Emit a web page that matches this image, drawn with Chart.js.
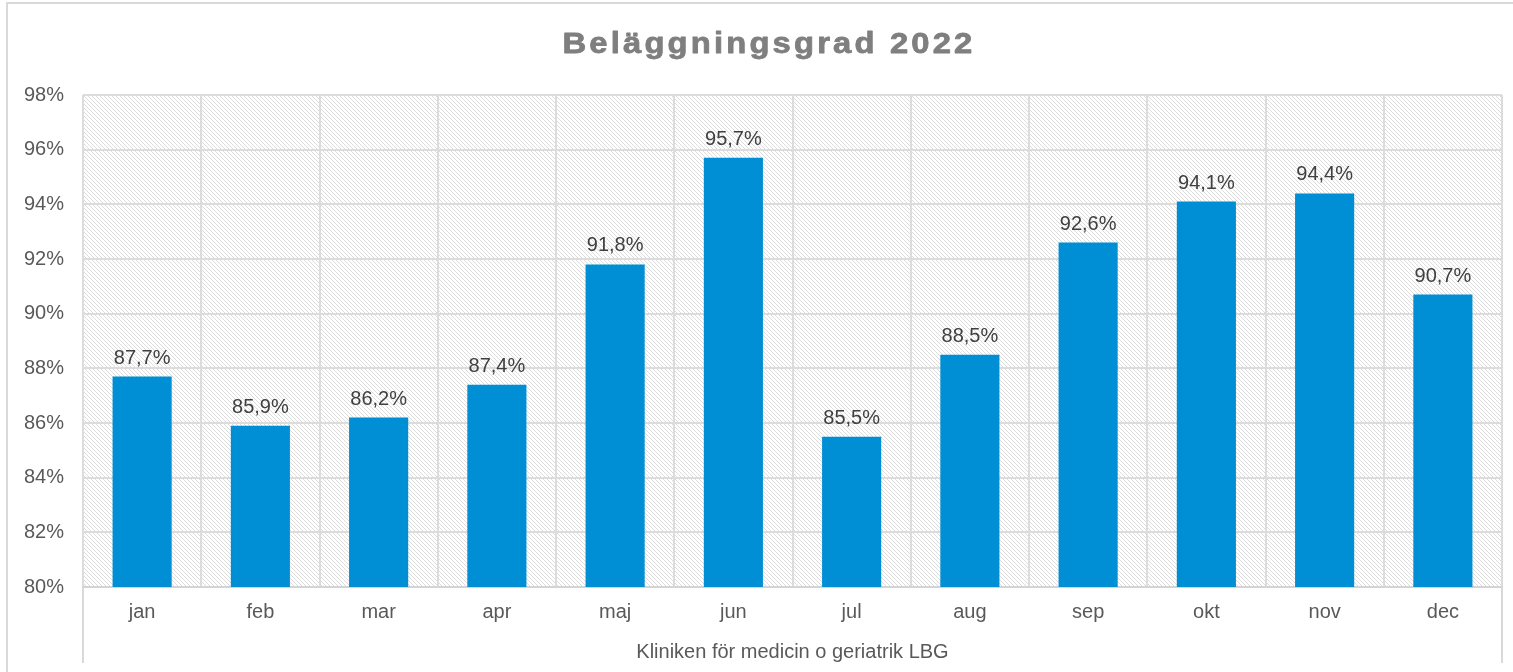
<!DOCTYPE html>
<html>
<head>
<meta charset="utf-8">
<script src="https://cdn.jsdelivr.net/npm/chart.js@4/dist/chart.umd.min.js"></script>
<style>
  html, body { margin: 0; padding: 0; background: #ffffff; }
  #wrap { width: 1513px; height: 672px; position: relative; }
</style>
</head>
<body>
<div id="wrap"><canvas id="c" width="1513" height="672"></canvas></div>
<script>
const chartTitle = 'Beläggningsgrad 2022';
const axisTitle = 'Kliniken för medicin o geriatrik LBG';
const months = ['jan', 'feb', 'mar', 'apr', 'maj', 'jun', 'jul', 'aug', 'sep', 'okt', 'nov', 'dec'];
const occupancy = [87.7, 85.9, 86.2, 87.4, 91.8, 95.7, 85.5, 88.5, 92.6, 94.1, 94.4, 90.7];
const yMin = 80;
const yMax = 98;
const yStep = 2;

const FONT = '"Liberation Sans", Arial, sans-serif';

function fmtPct(v, decimals) {
  return v.toFixed(decimals).replace('.', ',') + '%';
}

function makeHatch() {
  const p = document.createElement('canvas');
  p.width = 4; p.height = 4;
  const g = p.getContext('2d');
  g.fillStyle = '#ffffff';
  g.fillRect(0, 0, 4, 4);
  g.fillStyle = '#dcdcdc';
  for (let i = 0; i < 4; i++) g.fillRect(i, i, 1, 1);
  return g.createPattern(p, 'repeat');
}

const decorPlugin = {
  id: 'decor',
  beforeDraw(chart) {
    const ctx = chart.ctx;
    const a = chart.chartArea;
    ctx.save();
    // outer frame
    ctx.strokeStyle = '#d9d9d9';
    ctx.lineWidth = 2;
    ctx.strokeRect(7, 3, 1540, 700);
    // hatched plot background
    ctx.fillStyle = makeHatch();
    ctx.fillRect(a.left, a.top, a.right - a.left, a.bottom - a.top);
    // extended side lines below plot area
    ctx.strokeStyle = '#d9d9d9';
    ctx.lineWidth = 2;
    ctx.beginPath();
    ctx.moveTo(a.left, a.bottom); ctx.lineTo(a.left, 663);
    ctx.moveTo(a.right, a.bottom); ctx.lineTo(a.right, 663);
    ctx.stroke();
    ctx.restore();
    // title (wide, heavy bold)
    ctx.save();
    ctx.translate(769, 53);
    ctx.scale(1.13, 1);
    ctx.fillStyle = '#7f7f7f';
    ctx.strokeStyle = '#7f7f7f';
    ctx.lineWidth = 0.8;
    ctx.lineJoin = 'round';
    ctx.font = 'bold 29px ' + FONT;
    ctx.textAlign = 'center';
    ctx.textBaseline = 'alphabetic';
    if ('letterSpacing' in ctx) ctx.letterSpacing = '2.8px';
    ctx.fillText(chartTitle, 0, 0);
    ctx.strokeText(chartTitle, 0, 0);
    ctx.restore();
  },
  afterDatasetsDraw(chart) {
    const ctx = chart.ctx;
    const meta = chart.getDatasetMeta(0);
    const data = chart.data.datasets[0].data;
    ctx.save();
    ctx.fillStyle = '#404040';
    ctx.font = '20px ' + FONT;
    ctx.textAlign = 'center';
    ctx.textBaseline = 'alphabetic';
    meta.data.forEach((bar, i) => {
      ctx.fillText(fmtPct(data[i], 1), bar.x, bar.y - 13);
    });
    ctx.restore();
  }
};

new Chart(document.getElementById('c'), {
  type: 'bar',
  data: {
    labels: months,
    datasets: [{
      data: occupancy,
      backgroundColor: '#008FD4',
      borderWidth: 0,
      barPercentage: 1,
      categoryPercentage: 0.5
    }]
  },
  options: {
    responsive: false,
    animation: false,
    devicePixelRatio: 1,
    layout: { padding: { left: 0, right: 11, top: 95, bottom: 0 } },
    plugins: {
      legend: { display: false },
      tooltip: { enabled: false },
      title: { display: false }
    },
    scales: {
      x: {
        offset: true,
        grid: { offset: true, color: '#dcdcdc', lineWidth: 2, drawTicks: false },
        border: { color: '#d4d4d4', width: 2 },
        ticks: { color: '#595959', font: { family: FONT, size: 20 }, padding: 13 },
        title: {
          display: true,
          text: axisTitle,
          color: '#595959',
          font: { family: FONT, size: 20 },
          padding: { top: 4, bottom: 8 }
        },
        afterFit(scale) { scale.height = 85; }
      },
      y: {
        min: yMin,
        max: yMax,
        grid: { color: '#dcdcdc', lineWidth: 2, drawTicks: false },
        border: { display: false },
        ticks: {
          stepSize: yStep,
          color: '#595959',
          font: { family: FONT, size: 20 },
          padding: 19,
          callback: (v) => v + '%'
        },
        afterFit(scale) { scale.width = 83; }
      }
    }
  },
  plugins: [decorPlugin]
});
</script>
</body>
</html>
